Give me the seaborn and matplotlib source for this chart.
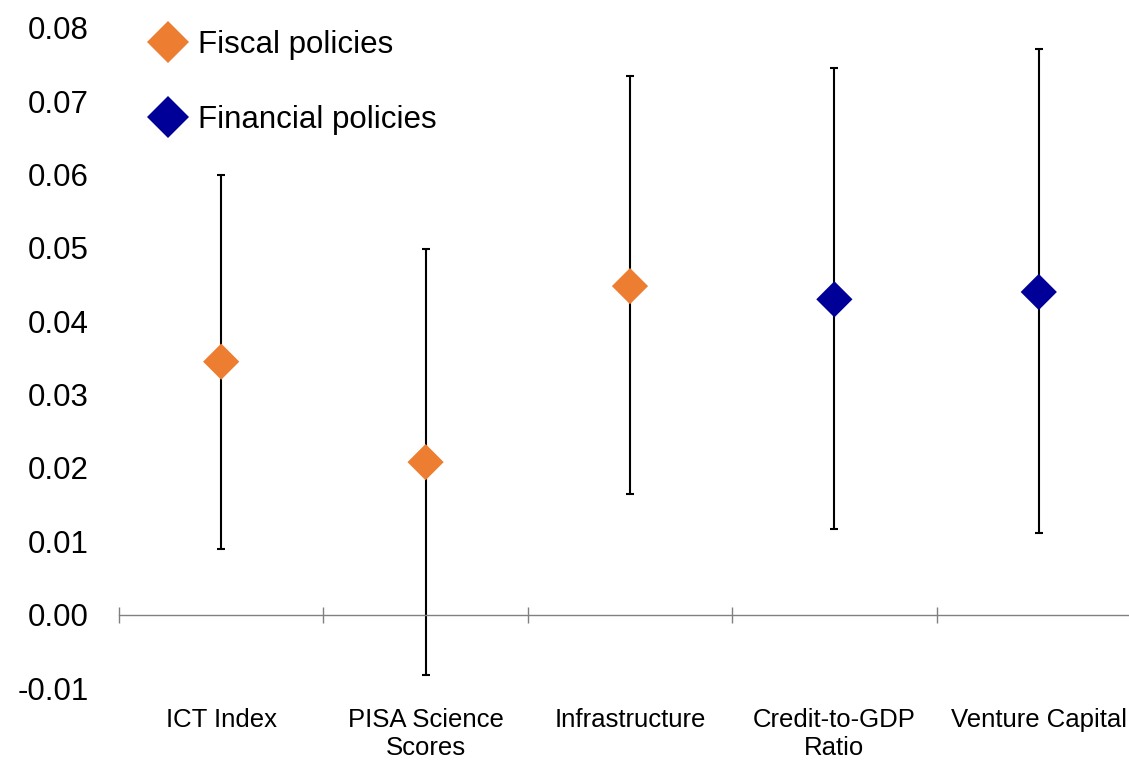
import numpy as np
import pandas as pd
import seaborn as sns
import matplotlib.pyplot as plt

# values
categories = ["ICT Index", "PISA Science\nScores", "Infrastructure", "Credit-to-GDP\nRatio", "Venture Capital"]
groups = ["Fiscal policies", "Fiscal policies", "Fiscal policies", "Financial policies", "Financial policies"]
estimate = [0.0345, 0.0208, 0.0448, 0.0430, 0.0440]
upper = [0.0600, 0.0499, 0.0734, 0.0745, 0.0772]
lower = [0.0090, -0.0082, 0.0165, 0.0117, 0.0112]

df = pd.DataFrame({
    "pos": np.arange(len(categories)),
    "group": groups,
    "est": estimate,
    "hi": upper,
    "lo": lower,
})

sns.set_style("white")
plt.rcParams["font.family"] = ["Liberation Sans", "DejaVu Sans"]
plt.rcParams["text.color"] = "black"
plt.rcParams["xtick.color"] = "black"
plt.rcParams["ytick.color"] = "black"

fig = plt.figure(figsize=(11.29, 7.62), dpi=100)
ax = fig.add_axes([0.1054, 0.0971, 0.9052, 0.8662])

# error bars behind the markers
ax.errorbar(df["pos"], df["est"],
            yerr=[df["est"] - df["lo"], df["hi"] - df["est"]],
            fmt="none", ecolor="black", elinewidth=1.5, capsize=3, capthick=1.5, zorder=2)

palette = {"Fiscal policies": "#ED7D31", "Financial policies": "#000099"}
sns.scatterplot(data=df, x="pos", y="est", hue="group", palette=palette,
                marker="D", s=340, linewidth=0, ax=ax, zorder=3)

ax.set_xlim(-0.5, len(categories) - 0.5)
ax.set_ylim(-0.01, 0.08)
ax.set_yticks(np.arange(-0.01, 0.081, 0.01))
ax.set_yticklabels([f"{v:.2f}" for v in np.arange(-0.01, 0.081, 0.01)])

# x axis line at zero with boundary ticks
for s in ["top", "right", "left"]:
    ax.spines[s].set_visible(False)
ax.spines["bottom"].set_position(("data", 0))
ax.spines["bottom"].set_color("#808080")
ax.spines["bottom"].set_linewidth(1.0)
ax.set_xticks(df["pos"])
ax.set_xticklabels(categories, fontsize=18.5)
ax.set_xticks(np.arange(-0.5, len(categories)), minor=True)
ax.tick_params(axis="x", which="both", bottom=True)
ax.tick_params(axis="x", which="major", length=0, pad=67)
ax.tick_params(axis="x", which="minor", direction="inout", length=11, width=1.0,
               color="#808080")
ax.tick_params(axis="y", left=False, length=0, pad=22, labelsize=22.5)
ax.set_xlabel("")
ax.set_ylabel("")

leg = ax.legend(loc="upper left", bbox_to_anchor=(0.005, 1.04), frameon=False,
                fontsize=22.5, handlelength=1.0, handletextpad=0.45, labelspacing=1.45,
                markerscale=1.15)

fig.savefig("out.png", dpi=100)
